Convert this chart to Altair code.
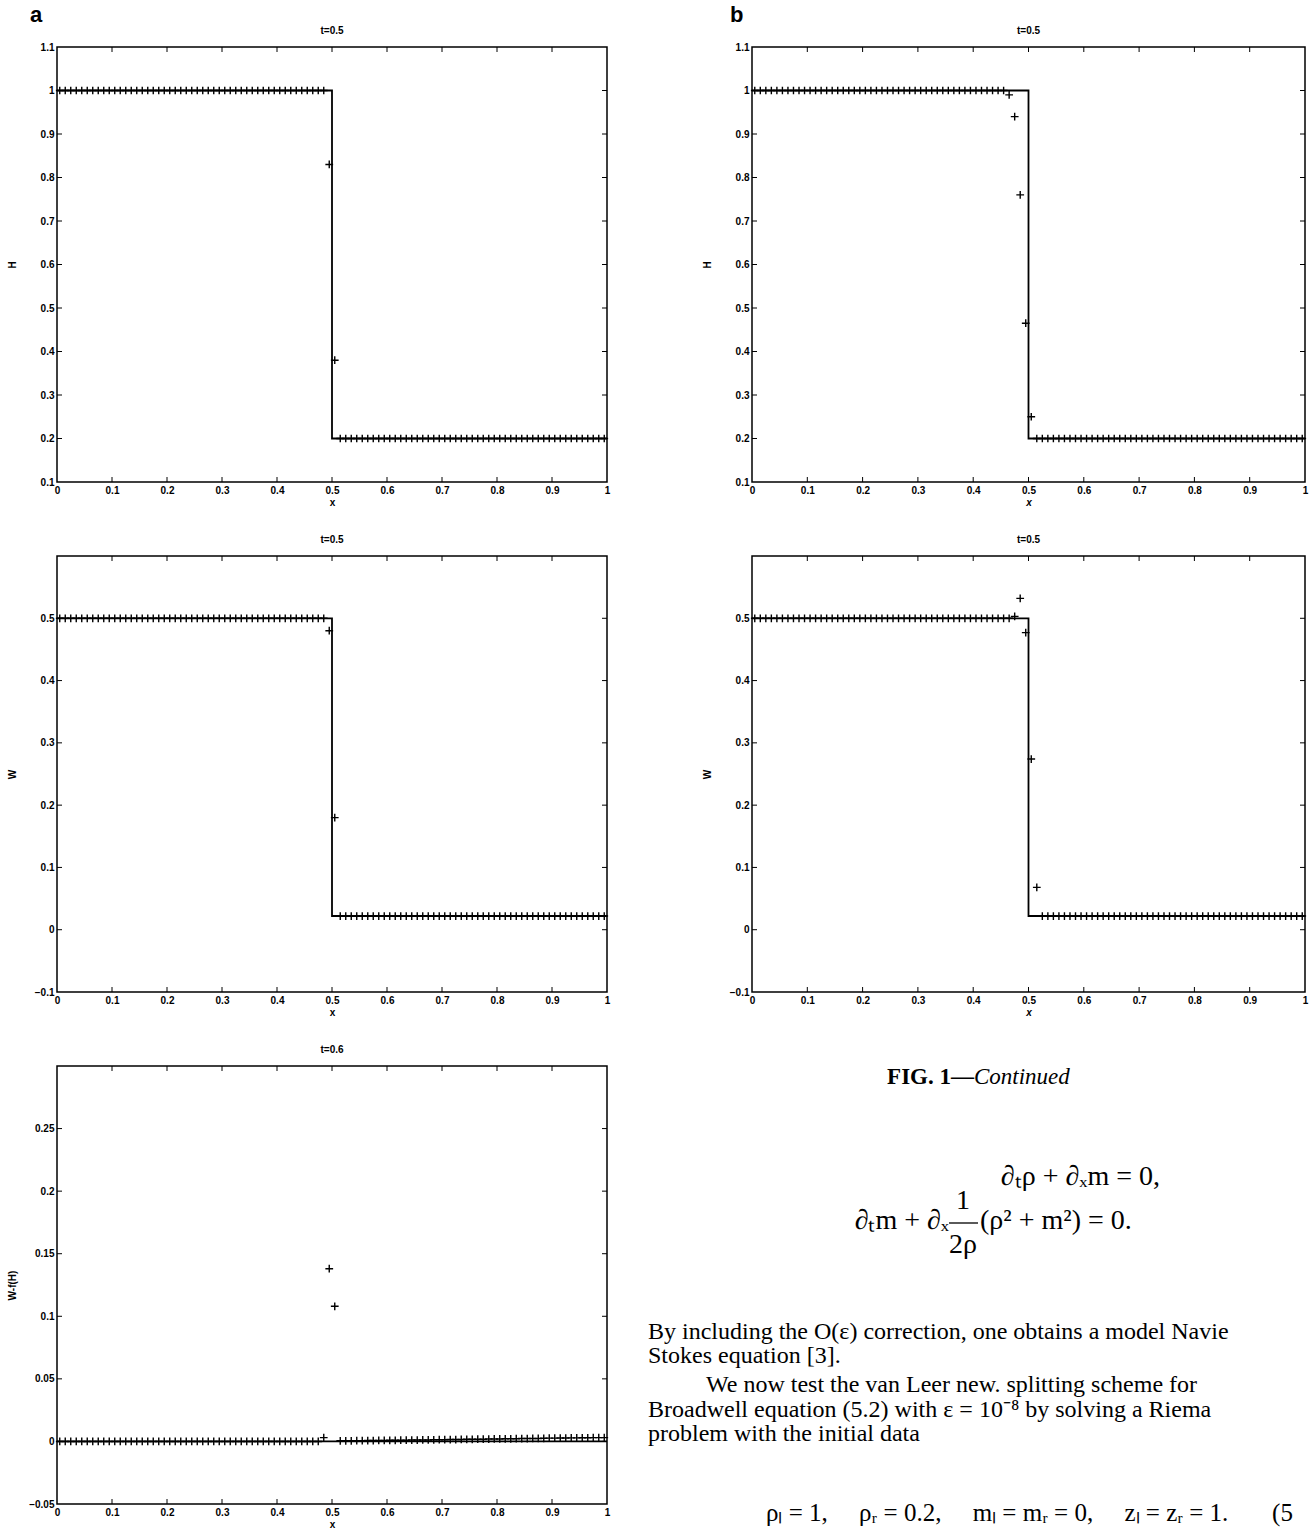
import altair as alt
import pandas as pd

# ---------------- data ----------------
# cell centres of the numerical solution (100 cells on [0, 1])
x_cells = [
    0.005, 0.015, 0.025, 0.035, 0.045, 0.055, 0.065, 0.075, 0.085, 0.095,
    0.105, 0.115, 0.125, 0.135, 0.145, 0.155, 0.165, 0.175, 0.185, 0.195,
    0.205, 0.215, 0.225, 0.235, 0.245, 0.255, 0.265, 0.275, 0.285, 0.295,
    0.305, 0.315, 0.325, 0.335, 0.345, 0.355, 0.365, 0.375, 0.385, 0.395,
    0.405, 0.415, 0.425, 0.435, 0.445, 0.455, 0.465, 0.475, 0.485, 0.495,
    0.505, 0.515, 0.525, 0.535, 0.545, 0.555, 0.565, 0.575, 0.585, 0.595,
    0.605, 0.615, 0.625, 0.635, 0.645, 0.655, 0.665, 0.675, 0.685, 0.695,
    0.705, 0.715, 0.725, 0.735, 0.745, 0.755, 0.765, 0.775, 0.785, 0.795,
    0.805, 0.815, 0.825, 0.835, 0.845, 0.855, 0.865, 0.875, 0.885, 0.895,
    0.905, 0.915, 0.925, 0.935, 0.945, 0.955, 0.965, 0.975, 0.985, 0.995,
]

# panel a, H  (markers "+")
H_a = [
    1.0, 1.0, 1.0, 1.0, 1.0, 1.0, 1.0, 1.0, 1.0, 1.0,
    1.0, 1.0, 1.0, 1.0, 1.0, 1.0, 1.0, 1.0, 1.0, 1.0,
    1.0, 1.0, 1.0, 1.0, 1.0, 1.0, 1.0, 1.0, 1.0, 1.0,
    1.0, 1.0, 1.0, 1.0, 1.0, 1.0, 1.0, 1.0, 1.0, 1.0,
    1.0, 1.0, 1.0, 1.0, 1.0, 1.0, 1.0, 1.0, 1.0, 0.83,
    0.38, 0.2, 0.2, 0.2, 0.2, 0.2, 0.2, 0.2, 0.2, 0.2,
    0.2, 0.2, 0.2, 0.2, 0.2, 0.2, 0.2, 0.2, 0.2, 0.2,
    0.2, 0.2, 0.2, 0.2, 0.2, 0.2, 0.2, 0.2, 0.2, 0.2,
    0.2, 0.2, 0.2, 0.2, 0.2, 0.2, 0.2, 0.2, 0.2, 0.2,
    0.2, 0.2, 0.2, 0.2, 0.2, 0.2, 0.2, 0.2, 0.2, 0.2,
]

# panel a, W
W_a = [
    0.5, 0.5, 0.5, 0.5, 0.5, 0.5, 0.5, 0.5, 0.5, 0.5,
    0.5, 0.5, 0.5, 0.5, 0.5, 0.5, 0.5, 0.5, 0.5, 0.5,
    0.5, 0.5, 0.5, 0.5, 0.5, 0.5, 0.5, 0.5, 0.5, 0.5,
    0.5, 0.5, 0.5, 0.5, 0.5, 0.5, 0.5, 0.5, 0.5, 0.5,
    0.5, 0.5, 0.5, 0.5, 0.5, 0.5, 0.5, 0.5, 0.5, 0.48,
    0.18, 0.022, 0.022, 0.022, 0.022, 0.022, 0.022, 0.022, 0.022, 0.022,
    0.022, 0.022, 0.022, 0.022, 0.022, 0.022, 0.022, 0.022, 0.022, 0.022,
    0.022, 0.022, 0.022, 0.022, 0.022, 0.022, 0.022, 0.022, 0.022, 0.022,
    0.022, 0.022, 0.022, 0.022, 0.022, 0.022, 0.022, 0.022, 0.022, 0.022,
    0.022, 0.022, 0.022, 0.022, 0.022, 0.022, 0.022, 0.022, 0.022, 0.022,
]

# panel a, W - f(H)
D_a = [
    0.0, 0.0, 0.0, 0.0, 0.0, 0.0, 0.0, 0.0, 0.0, 0.0,
    0.0, 0.0, 0.0, 0.0, 0.0, 0.0, 0.0, 0.0, 0.0, 0.0,
    0.0, 0.0, 0.0, 0.0, 0.0, 0.0, 0.0, 0.0, 0.0, 0.0,
    0.0, 0.0, 0.0, 0.0, 0.0, 0.0, 0.0, 0.0, 0.0, 0.0,
    0.0, 0.0, 0.0, 0.0, 0.0, 0.0, 0.0, 0.0, 0.003, 0.138,
    0.108, 0.0005, 0.0005, 0.0005, 0.0006, 0.0006, 0.0007, 0.0007, 0.0008, 0.0008,
    0.0009, 0.0009, 0.001, 0.001, 0.0011, 0.0011, 0.0012, 0.0012, 0.0013, 0.0014,
    0.0014, 0.0015, 0.0015, 0.0016, 0.0017, 0.0017, 0.0018, 0.0018, 0.0019, 0.002,
    0.002, 0.0021, 0.0021, 0.0022, 0.0023, 0.0023, 0.0024, 0.0024, 0.0025, 0.0026,
    0.0026, 0.0027, 0.0027, 0.0028, 0.0028, 0.0029, 0.0029, 0.003, 0.003, 0.003,
]

# panel b, H
H_b = [
    1.0, 1.0, 1.0, 1.0, 1.0, 1.0, 1.0, 1.0, 1.0, 1.0,
    1.0, 1.0, 1.0, 1.0, 1.0, 1.0, 1.0, 1.0, 1.0, 1.0,
    1.0, 1.0, 1.0, 1.0, 1.0, 1.0, 1.0, 1.0, 1.0, 1.0,
    1.0, 1.0, 1.0, 1.0, 1.0, 1.0, 1.0, 1.0, 1.0, 1.0,
    1.0, 1.0, 1.0, 1.0, 1.0, 1.0, 0.99, 0.94, 0.76, 0.465,
    0.25, 0.2, 0.2, 0.2, 0.2, 0.2, 0.2, 0.2, 0.2, 0.2,
    0.2, 0.2, 0.2, 0.2, 0.2, 0.2, 0.2, 0.2, 0.2, 0.2,
    0.2, 0.2, 0.2, 0.2, 0.2, 0.2, 0.2, 0.2, 0.2, 0.2,
    0.2, 0.2, 0.2, 0.2, 0.2, 0.2, 0.2, 0.2, 0.2, 0.2,
    0.2, 0.2, 0.2, 0.2, 0.2, 0.2, 0.2, 0.2, 0.2, 0.2,
]

# panel b, W
W_b = [
    0.5, 0.5, 0.5, 0.5, 0.5, 0.5, 0.5, 0.5, 0.5, 0.5,
    0.5, 0.5, 0.5, 0.5, 0.5, 0.5, 0.5, 0.5, 0.5, 0.5,
    0.5, 0.5, 0.5, 0.5, 0.5, 0.5, 0.5, 0.5, 0.5, 0.5,
    0.5, 0.5, 0.5, 0.5, 0.5, 0.5, 0.5, 0.5, 0.5, 0.5,
    0.5, 0.5, 0.5, 0.5, 0.5, 0.5, 0.5, 0.503, 0.532, 0.477,
    0.274, 0.068, 0.022, 0.022, 0.022, 0.022, 0.022, 0.022, 0.022, 0.022,
    0.022, 0.022, 0.022, 0.022, 0.022, 0.022, 0.022, 0.022, 0.022, 0.022,
    0.022, 0.022, 0.022, 0.022, 0.022, 0.022, 0.022, 0.022, 0.022, 0.022,
    0.022, 0.022, 0.022, 0.022, 0.022, 0.022, 0.022, 0.022, 0.022, 0.022,
    0.022, 0.022, 0.022, 0.022, 0.022, 0.022, 0.022, 0.022, 0.022, 0.022,
]

# exact (solid line) solutions
step_x = [0.0, 0.5, 0.5, 1.0]
H_exact = [1.0, 1.0, 0.2, 0.2]
W_exact = [0.5, 0.5, 0.022, 0.022]
D_exact = [0.0, 0.0, 0.0, 0.0]

# axis ticks / labels
x_labels = [0, 0.1, 0.2, 0.3, 0.4, 0.5, 0.6, 0.7, 0.8, 0.9, 1]
x_ticks = [0.1, 0.2, 0.3, 0.4, 0.5, 0.6, 0.7, 0.8, 0.9]
H_labels = [0.1, 0.2, 0.3, 0.4, 0.5, 0.6, 0.7, 0.8, 0.9, 1, 1.1]
H_ticks = [0.2, 0.3, 0.4, 0.5, 0.6, 0.7, 0.8, 0.9, 1.0]
W_labels = [-0.1, 0, 0.1, 0.2, 0.3, 0.4, 0.5]
W_ticks = [0, 0.1, 0.2, 0.3, 0.4, 0.5]
D_labels = [-0.05, 0, 0.05, 0.1, 0.15, 0.2, 0.25]
D_ticks = [0, 0.05, 0.1, 0.15, 0.2, 0.25]

# ---------------- styling ----------------
SANS = "Liberation Sans"
SERIF = "Liberation Serif"
PLUS = "M-1,0L1,0M0,-1L0,1"
TICK = 5
one = pd.DataFrame({"k": [0]})


def panel(yvals, yexact, ydomain, ylabels, yticks, ytitle, title, w, h,
          x_italic=False, letter=None, letter_dx=-27):
    pts = pd.DataFrame({"x": x_cells, "y": yvals})
    ln = pd.DataFrame({"x": step_x, "y": yexact, "o": list(range(len(step_x)))})
    xt = pd.DataFrame({"x": x_ticks})
    yt = pd.DataFrame({"y": yticks})

    xenc = alt.X(
        "x:Q",
        scale=alt.Scale(domain=[0, 1], nice=False, zero=False),
        axis=alt.Axis(values=x_labels, format="~g", title="x",
                      titleFontStyle="italic" if x_italic else "normal",
                      ticks=False, domain=False, grid=False, tickSize=0,
                      labelPadding=3, titlePadding=2, labelFlush=False,
                      labelOverlap=False),
    )
    yenc = alt.Y(
        "y:Q",
        scale=alt.Scale(domain=ydomain, nice=False, zero=False),
        axis=alt.Axis(values=ylabels, format="~g", title=ytitle,
                      ticks=False, domain=False, grid=False, tickSize=0,
                      labelPadding=3, labelFlush=False, labelOverlap=False,
                      titleX=-45, titleY=h / 2, titleBaseline="middle",
                      titleAlign="center", titleAngle=270),
    )

    line = alt.Chart(ln).mark_line(color="black", strokeWidth=1.8).encode(
        x=xenc, y=yenc, order="o:Q")
    marks = alt.Chart(pts).mark_point(
        shape=PLUS, filled=False, color="black", strokeWidth=1.4, size=60,
        opacity=1).encode(x=xenc, y=yenc)
    tb = alt.Chart(xt).mark_rule(color="black", strokeWidth=1).encode(
        x=xenc, y=alt.value(h), y2=alt.value(h - TICK))
    tt = alt.Chart(xt).mark_rule(color="black", strokeWidth=1).encode(
        x=xenc, y=alt.value(0), y2=alt.value(TICK))
    tl = alt.Chart(yt).mark_rule(color="black", strokeWidth=1).encode(
        y=yenc, x=alt.value(0), x2=alt.value(TICK))
    tr = alt.Chart(yt).mark_rule(color="black", strokeWidth=1).encode(
        y=yenc, x=alt.value(w), x2=alt.value(w - TICK))
    ttl = alt.Chart(one).mark_text(
        text=title, font=SANS, fontSize=10, fontWeight="bold", align="center",
        baseline="middle", color="black").encode(
        x=alt.value(w / 2), y=alt.value(-16))
    layers = [line, marks, tb, tt, tl, tr, ttl]
    if letter:
        lt = alt.Chart(one).mark_text(
            text=letter, font=SANS, fontSize=22, fontWeight="bold", align="left",
            baseline="middle", color="black").encode(
            x=alt.value(letter_dx), y=alt.value(-32))
        layers.append(lt)
    return alt.layer(*layers).properties(width=w, height=h)


WA, WB = 550, 553
a1 = panel(H_a, H_exact, [0.1, 1.1], H_labels, H_ticks, "H", "t=0.5", WA, 435, letter="a")
a2 = panel(W_a, W_exact, [-0.1, 0.6], W_labels, W_ticks, "W", "t=0.5", WA, 436)
a3 = panel(D_a, D_exact, [-0.05, 0.3], D_labels, D_ticks, "W-f(H)", "t=0.6", WA, 438)
b1 = panel(H_b, H_exact, [0.1, 1.1], H_labels, H_ticks, "H", "t=0.5", WB, 435,
           x_italic=True, letter="b", letter_dx=-22)
b2 = panel(W_b, W_exact, [-0.1, 0.6], W_labels, W_ticks, "W", "t=0.5", WB, 436,
           x_italic=True)


# ---------------- text block under panel b ----------------
def txt(s, x, y, size=24, style="normal", weight="normal", align="left", font=SERIF):
    return alt.Chart(one).mark_text(
        text=s, font=font, fontSize=size, fontStyle=style, fontWeight=weight,
        align=align, baseline="middle", color="black").encode(
        x=alt.value(x), y=alt.value(y))


SP = " \u2003"
texts = [
    txt("FIG. 1\u2014", 222, 11, size=23, weight="bold", align="right"),
    txt("Continued", 222, 11, size=23, style="italic"),
    txt("\u2202\u209c\u03c1 + \u2202\u2093m = 0,", 408, 111, size=28, align="right"),
    txt("\u2202\u209cm + \u2202\u2093", 197, 155, size=28, align="right"),
    txt("1", 211, 135, size=28, align="center"),
    txt("2\u03c1", 211, 179, size=28, align="center"),
    txt("(\u03c1\u00b2 + m\u00b2) = 0.", 228, 155, size=28),
    txt("By including the O(\u03b5) correction, one obtains a model Navie", -104, 266),
    txt("Stokes equation [3].", -104, 290),
    txt("We now test the van Leer new. splitting scheme for", -46, 319),
    txt("Broadwell equation (5.2) with \u03b5 = 10\u207b\u2078 by solving a Riema", -104, 344),
    txt("problem with the initial data", -104, 368),
    txt("\u03c1\u2097 = 1," + SP + "\u03c1\u1d63 = 0.2," + SP + "m\u2097 = m\u1d63 = 0," + SP
        + "z\u2097 = z\u1d63 = 1." + SP + "\u2002(5", 14, 447, size=25),
]
bar = alt.Chart(one).mark_rule(color="black", strokeWidth=1.3).encode(
    x=alt.value(197), x2=alt.value(226), y=alt.value(157))
text_block = alt.layer(*texts, bar).properties(
    width=WB, height=440,
    view=alt.ViewBackground(stroke="transparent", strokeWidth=0))

chart = alt.concat(
    a1, b1, a2, b2, a3, text_block,
    columns=2, spacing={"row": 74, "column": 145}, bounds="flush",
).properties(
    padding={"left": 6, "top": 3, "right": 0, "bottom": 0},
    background="white",
).configure_view(stroke="black", strokeWidth=1.5).configure_axis(
    labelFont=SANS, labelFontSize=10, labelFontWeight="bold", labelColor="black",
    titleFont=SANS, titleFontSize=10, titleFontWeight="bold", titleColor="black",
)

chart.save("out.html", embed_options={"renderer": "svg", "actions": False})
